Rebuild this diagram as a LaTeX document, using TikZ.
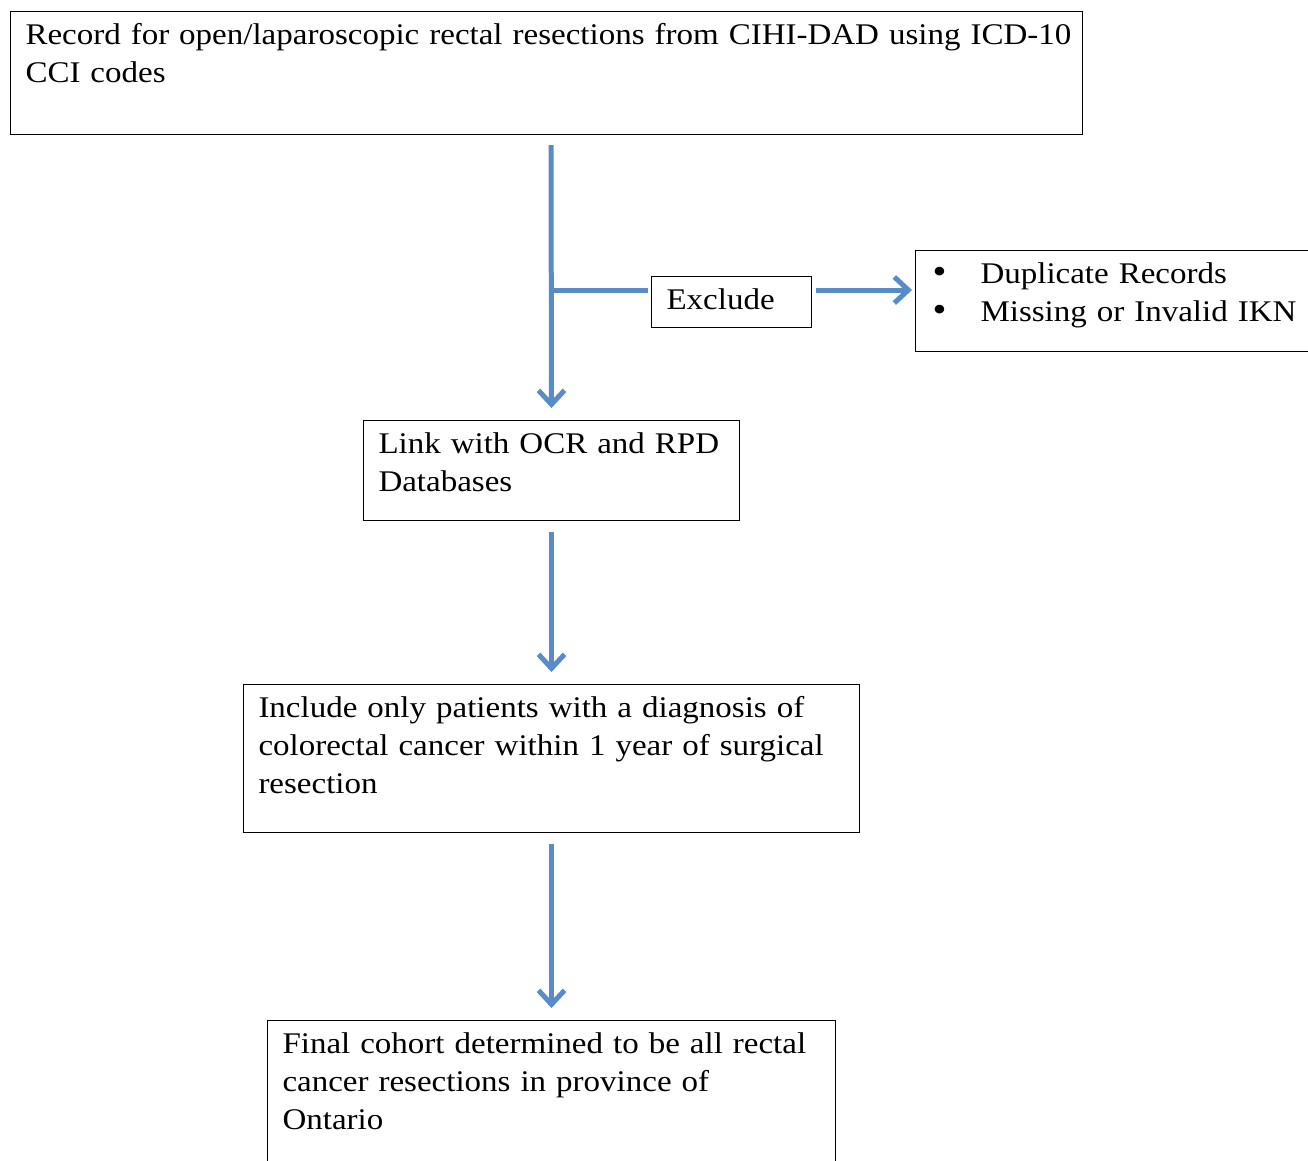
\documentclass[tikz,border=0pt]{standalone}
\usepackage{fontspec}
\setmainfont[FakeStretch=1.1, WordSpace=0.9]{Liberation Serif}
\usepackage{tikz}
\usetikzlibrary{positioning}
\usetikzlibrary{arrows.meta}
\definecolor{flowblue}{RGB}{88,140,200}
\newcommand{\bulletmark}{\makebox[50pt][l]{\hspace{2pt}\fontsize{36}{38}\selectfont•}}

\begin{document}
\begin{tikzpicture}[
        x = 1pt, y = -1pt,
        box/.style = {
            draw,
            line width = 1pt,
            anchor = north west,
            align = left,
            text width = #1,
            inner xsep = 15pt,
            inner ysep = 10pt,
            text height = 23pt,
            font = \fontsize{30}{38}\selectfont
        },
        box/.default = 200pt,
        flow/.style = {
            draw = flowblue,
            line width = 5pt,
            -{Straight Barb[length=14pt, width=26pt]}
        }
    ]
    \clip (0,0) rectangle (1308,1160);
    {\node[box=1042pt, text depth=80pt] (record) at (10,11) {\mbox{Record for open/laparoscopic rectal resections from CIHI-DAD using ICD-10}\\CCI codes};}
    {\node[box=130pt, text depth=8pt] (exclude) at (651,276) {Exclude};}
    {\node[box=420pt, text depth=58pt] (reasons) at (915,250) {\bulletmark Duplicate Records\\\bulletmark Missing or Invalid IKN};}
    {\node[box=346pt, text depth=57pt] (link) at (363,420) {Link with OCR and RPD\\Databases};}
    {\node[box=586pt, text depth=105pt] (include) at (243,684) {Include only patients with a diagnosis of\\colorectal cancer within 1 year of surgical\\resection};}
    {\node[box=538pt, text depth=125pt] (final) at (267,1020) {Final cohort determined to be all rectal\\cancer resections in province of\\Ontario};}
    \coordinate (split) at (551,290);
    \draw[flow, shorten <=10pt, shorten >=12pt] (split |- record.south) -- (link.north);
    \draw[flow, -, shorten >=3pt] (split) -- (split -| exclude.west);
    \draw[flow, shorten <=4pt, shorten >=3pt] (split -| exclude.east) -- (split -| reasons.west);
    \draw[flow, shorten <=11pt, shorten >=12pt] (link.south) -- (include.north);
    \draw[flow, shorten <=11pt, shorten >=12pt] (include.south) -- (final.north);
\end{tikzpicture}
\end{document}
